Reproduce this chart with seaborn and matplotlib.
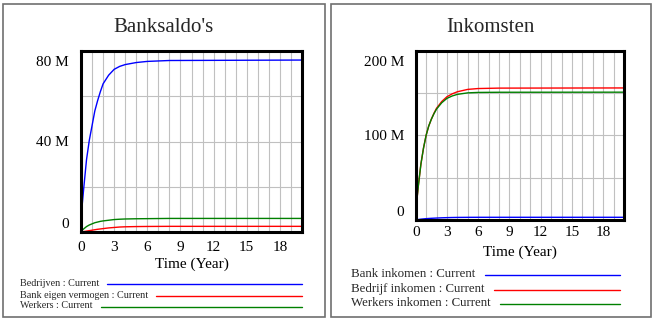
import matplotlib
matplotlib.use("Agg")
import matplotlib.pyplot as plt
import numpy as np
import pandas as pd
import seaborn as sns
from matplotlib.transforms import ScaledTranslation
from matplotlib.patches import Rectangle
from matplotlib.lines import Line2D

# ---- data (values in millions) ----
time_years = [0, 0.1, 0.25, 0.5, 0.75, 1, 1.25, 1.5, 1.75, 2, 2.5, 3, 3.5, 4, 5, 6, 8, 20]

bedrijven = [0, 11.5, 19.5, 32, 40.5, 47, 53.5, 58, 62, 65.5, 69.3, 71.9, 73.2, 74, 74.9, 75.4, 75.8, 76]
bank_eigen_vermogen = [0, 0.1, 0.2, 0.4, 0.6, 0.8, 1.0, 1.2, 1.35, 1.5, 1.8, 2.0, 2.2, 2.3, 2.4, 2.45, 2.5, 2.5]
werkers = [0, 0.7, 1.4, 2.4, 3.1, 3.6, 4.1, 4.4, 4.7, 4.9, 5.2, 5.5, 5.65, 5.75, 5.85, 5.9, 6.0, 6.0]

bank_inkomen = [0, 0.3, 0.6, 1.0, 1.3, 1.6, 1.8, 2.0, 2.15, 2.3, 2.6, 2.8, 2.95, 3.05, 3.15, 3.2, 3.2, 3.2]
bedrijf_inkomen = [0, 22, 40, 66, 85, 100, 111, 119, 126, 132, 140, 145.6, 149, 151.5, 154.3, 155.3, 155.8, 156]
werkers_inkomen = [0, 22, 40, 66, 85, 100, 111, 119, 125.5, 131, 138.5, 143.7, 146.5, 148.4, 150.2, 150.7, 150.9, 151]

left_names = ["Bedrijven : Current", "Bank eigen vermogen : Current", "Werkers : Current"]
right_names = ["Bank inkomen : Current", "Bedrijf inkomen : Current", "Werkers inkomen : Current"]
colors = ["#0000ff", "#ff0000", "#008000"]

x_ticks = list(range(0, 21))
x_ticklabels = [str(v) if v % 3 == 0 and v <= 18 else "" for v in x_ticks]
left_yticks = [0, 20e6, 40e6, 60e6, 80e6]
left_yticklabels = ["0", "", "40 M", "", "80 M"]
right_yticks = [0, 50e6, 100e6, 150e6, 200e6]
right_yticklabels = ["0", "", "100 M", "", "200 M"]

sns.set_theme(style="white")
plt.rcParams["font.family"] = ["Liberation Serif", "DejaVu Serif"]

W, H = 656, 324
fig = plt.figure(figsize=(W / 100, H / 100), dpi=100)
fig.patch.set_facecolor("white")


def px_axes(x0, y0, x1, y1):
    return fig.add_axes([x0 / W, 1 - y1 / H, (x1 - x0) / W, (y1 - y0) / H])


def long_frame(names, series):
    rows = []
    for name, vals in zip(names, series):
        for t, v in zip(time_years, vals):
            rows.append({"time": t, "value": v * 1e6, "series": name})
    return pd.DataFrame(rows)


def style_axes(ax, ymax, yticks, yticklabels, xpad, xlabel_y):
    ax.set_xlim(0, 20)
    ax.set_ylim(0, ymax)
    ax.set_xticks(x_ticks)
    ax.set_xticklabels(x_ticklabels)
    ax.set_yticks(yticks)
    ax.set_yticklabels(yticklabels)
    ax.grid(True, color="#c0c0c0", lw=0.8)
    ax.set_axisbelow(True)
    for s in ax.spines.values():
        s.set_color("black")
        s.set_linewidth(2.2)
    ax.tick_params(axis="both", length=0, labelsize=11, colors="black")
    ax.tick_params(axis="x", pad=xpad)
    ax.tick_params(axis="y", pad=8.5)
    ax.set_ylabel("")
    ax.set_xlabel("Time (Year)", fontsize=11, color="black")
    ax.xaxis.set_label_coords(0.5, xlabel_y)


# panel frames
for x0, x1 in [(3, 325), (331, 651)]:
    fig.add_artist(Rectangle((x0 / W, 1 - 317 / H), (x1 - x0) / W, 313 / H,
                             transform=fig.transFigure, fill=False,
                             edgecolor="#707070", lw=1.2))

# left panel
ax1 = px_axes(81, 51, 302, 232)
df1 = long_frame(left_names, [bedrijven, bank_eigen_vermogen, werkers])
sns.lineplot(data=df1, x="time", y="value", hue="series", hue_order=left_names,
             palette=colors, lw=1.0, legend=False, ax=ax1)
style_axes(ax1, 80e6, left_yticks, left_yticklabels, 6.5, -0.14)
fig.text(164 / W, 1 - 28 / H, "Banksaldo's", fontsize=15, ha="center", va="center")

# right panel
ax2 = px_axes(415.7, 50.7, 624, 220)
df2 = long_frame(right_names, [bank_inkomen, bedrijf_inkomen, werkers_inkomen])
sns.lineplot(data=df2, x="time", y="value", hue="series", hue_order=right_names,
             palette=colors, lw=1.0, legend=False, ax=ax2)
style_axes(ax2, 200e6, right_yticks, right_yticklabels, 4.5, -0.15)
fig.text(490 / W, 1 - 28 / H, "Inkomsten", fontsize=15, ha="center", va="center")

# keep the extreme y labels inside the plot height
for ax in (ax1, ax2):
    labels = ax.get_yticklabels()
    labels[0].set_transform(labels[0].get_transform() + ScaledTranslation(0, 0.09, fig.dpi_scale_trans))
    labels[-1].set_transform(labels[-1].get_transform() + ScaledTranslation(0, -0.10, fig.dpi_scale_trans))

# legends: label text followed by a line sample
legend_specs = [
    (left_names, 20, [283, 295, 306], 7.3, 302, 8),
    (right_names, 350.7, [274, 289, 303], 9.3, 620, 10),
]
texts = []
for names, x0, ys, fs, xend, gap in legend_specs:
    for name, yc, c in zip(names, ys, colors):
        t = fig.text(x0 / W, 1 - yc / H, name, fontsize=fs, ha="left", va="center")
        texts.append((t, yc, c, xend, gap))

fig.canvas.draw()
renderer = fig.canvas.get_renderer()
for t, yc, c, xend, gap in texts:
    ext = t.get_window_extent(renderer)
    fig.add_artist(Line2D([(ext.x1 + gap) / W, xend / W], [1 - (yc + 0.5) / H] * 2,
                          transform=fig.transFigure, color=c, lw=1.0))

fig.savefig("out.png", dpi=100, facecolor="white")
